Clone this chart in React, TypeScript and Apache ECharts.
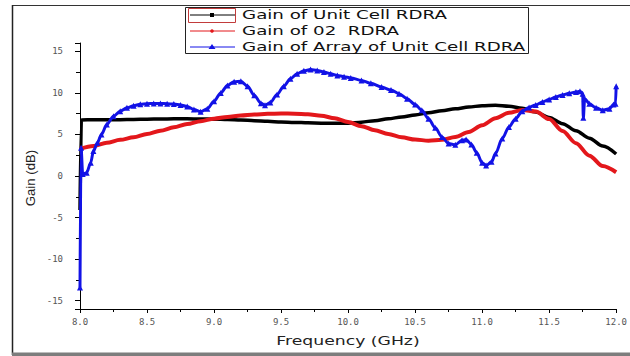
import React, { useEffect, useRef } from "react";
import * as echarts from "echarts";

// ---- data ----
const unitCellFreq = [8.0, 8.01, 8.1, 8.2, 8.3, 8.4, 8.5, 8.6, 8.7, 8.8, 8.9, 9.0, 9.1, 9.2, 9.3, 9.4, 9.5, 9.6, 9.7, 9.8, 9.9, 10.0, 10.1, 10.2, 10.3, 10.4, 10.5, 10.6, 10.7, 10.8, 10.9, 11.0, 11.1, 11.2, 11.3, 11.4, 11.5, 11.6, 11.7, 11.8, 11.9, 12.0];
const unitCellGain = [-4.1, 6.75, 6.76, 6.77, 6.78, 6.8, 6.83, 6.86, 6.88, 6.88, 6.86, 6.84, 6.8, 6.74, 6.66, 6.58, 6.5, 6.45, 6.4, 6.36, 6.34, 6.36, 6.48, 6.66, 6.88, 7.1, 7.35, 7.6, 7.85, 8.08, 8.3, 8.45, 8.52, 8.4, 8.15, 7.7, 7.05, 6.3, 5.45, 4.55, 3.6, 2.65];

const rdra02Freq = [8.0, 8.1, 8.2, 8.3, 8.4, 8.5, 8.6, 8.7, 8.8, 8.9, 9.0, 9.1, 9.2, 9.3, 9.4, 9.5, 9.6, 9.7, 9.8, 9.9, 10.0, 10.1, 10.2, 10.3, 10.4, 10.5, 10.6, 10.7, 10.8, 10.9, 11.0, 11.1, 11.2, 11.3, 11.4, 11.5, 11.6, 11.7, 11.8, 11.9, 12.0];
const rdra02Gain = [3.25, 3.6, 4.0, 4.35, 4.65, 5.05, 5.45, 5.85, 6.25, 6.6, 6.9, 7.1, 7.28, 7.4, 7.48, 7.52, 7.5, 7.42, 7.25, 6.95, 6.5, 6.0, 5.5, 5.05, 4.65, 4.38, 4.25, 4.35, 4.7, 5.3, 6.1, 6.95, 7.6, 7.95, 7.75, 6.85, 5.4, 3.95, 2.45, 1.2, 0.45];

const arrayFreq = [8.0, 8.008, 8.02, 8.05, 8.08, 8.1, 8.13, 8.16, 8.2, 8.25, 8.3, 8.35, 8.4, 8.45, 8.5, 8.55, 8.6, 8.65, 8.7, 8.75, 8.8, 8.85, 8.9, 8.95, 9.0, 9.05, 9.1, 9.15, 9.2, 9.25, 9.3, 9.35, 9.38, 9.42, 9.47, 9.52, 9.57, 9.62, 9.67, 9.72, 9.77, 9.82, 9.87, 9.92, 9.97, 10.02, 10.1, 10.17, 10.25, 10.32, 10.38, 10.44, 10.5, 10.55, 10.6, 10.65, 10.7, 10.75, 10.8, 10.85, 10.88, 10.92, 10.96, 11.0, 11.03, 11.07, 11.1, 11.15, 11.2, 11.25, 11.3, 11.35, 11.4, 11.45, 11.5, 11.55, 11.6, 11.65, 11.7, 11.73, 11.75, 11.755, 11.765, 11.8, 11.85, 11.9, 11.95, 11.98, 11.995, 12.0];
const arrayGain = [-13.4, 3.4, 0.25, 0.4, 1.6, 3.0, 4.0, 5.0, 6.2, 7.2, 7.8, 8.2, 8.45, 8.62, 8.7, 8.72, 8.72, 8.7, 8.65, 8.55, 8.35, 8.0, 7.72, 8.1, 9.0, 10.0, 10.9, 11.35, 11.4, 10.8, 9.7, 8.75, 8.5, 8.85, 9.8, 10.8, 11.7, 12.3, 12.65, 12.8, 12.7, 12.5, 12.3, 12.1, 11.95, 11.8, 11.5, 11.15, 10.7, 10.35, 9.9, 9.3, 8.6, 7.9, 6.9, 5.8, 4.7, 3.9, 3.75, 4.3, 4.4, 3.8, 2.8, 1.6, 1.25, 1.7, 2.7, 4.5, 5.9, 6.9, 7.8, 8.25, 8.55, 8.9, 9.2, 9.5, 9.75, 9.95, 10.1, 10.2, 9.9, 7.0, 9.3, 8.7, 8.2, 7.9, 8.1, 8.6, 8.7, 10.8];

const seriesNames = ["Gain of Unit Cell RDRA", "Gain of 02  RDRA", "Gain of Array of Unit Cell RDRA"];
const xAxisTitle = "Frequency (GHz)";
const yAxisTitle = "Gain (dB)";
const xRange = [8, 12];
const yRange = [-16, 16];

const BLACK = "#000000";
const RED = "#e3171b";
const BLUE = "#1212e6";

function pairs(f: number[], g: number[]) {
  return f.map((v, i) => [v, g[i]]);
}

export default function App() {
  const ref = useRef<HTMLDivElement>(null);
  useEffect(() => {
    if (!ref.current) return;
    const chart = echarts.init(ref.current, undefined, { renderer: "svg" });
    const tickFont = { fontSize: 9, fontFamily: "DejaVu Sans Mono", color: "#555" };
    const legendRows = [15, 31, 47];
    const legendColors = [BLACK, RED, BLUE];
    const legendGraphics: any[] = [
      {
        type: "rect",
        shape: { x: 185.5, y: 7.5, width: 343, height: 46 },
        style: { fill: "#fff", stroke: "#222", lineWidth: 1 },
        z: 100,
      },
      {
        type: "rect",
        shape: { x: 188.5, y: 8.5, width: 47, height: 14 },
        style: { fill: "none", stroke: "#c23b3b", lineWidth: 1 },
        z: 101,
      },
    ];
    legendRows.forEach((yy, i) => {
      legendGraphics.push({
        type: "line",
        shape: { x1: 190, y1: yy, x2: 235, y2: yy },
        style: { stroke: legendColors[i], lineWidth: 1 },
        z: 101,
      });
      legendGraphics.push({
        type: "text",
        x: 242,
        y: yy,
        scaleX: 1.46,
        style: {
          text: seriesNames[i],
          fontSize: 12.5,
          fontFamily: "DejaVu Sans",
          fill: "#111",
          align: "left",
          verticalAlign: "middle",
        },
        z: 101,
      });
    });
    legendGraphics.push({
      type: "rect",
      shape: { x: 210, y: legendRows[0] - 2, width: 4, height: 4 },
      style: { fill: BLACK },
      z: 102,
    });
    legendGraphics.push({
      type: "circle",
      shape: { cx: 212, cy: legendRows[1], r: 1.8 },
      style: { fill: RED },
      z: 102,
    });
    legendGraphics.push({
      type: "polygon",
      shape: { points: [[212, legendRows[2] - 3], [215.5, legendRows[2] + 2], [208.5, legendRows[2] + 2]] },
      style: { fill: BLUE },
      z: 102,
    });

    chart.setOption({
      animation: false,
      backgroundColor: "#ffffff",
      grid: { left: 80, right: 11, top: 43, bottom: 47, containLabel: false },
      xAxis: {
        type: "value",
        min: xRange[0],
        max: xRange[1],
        interval: 0.5,
        axisLine: { show: true, onZero: false, lineStyle: { color: "#000", width: 1 } },
        axisTick: { show: true, length: 4, lineStyle: { color: "#000" } },
        minorTick: { show: true, splitNumber: 2, length: 3, lineStyle: { color: "#000" } },
        splitLine: { show: false },
        axisLabel: { ...tickFont, margin: 8, formatter: (v: number) => v.toFixed(1) },
      },
      yAxis: {
        type: "value",
        min: yRange[0],
        max: yRange[1],
        minInterval: 5,
        maxInterval: 5,
        splitNumber: 7,
        axisLine: { show: true, onZero: false, lineStyle: { color: "#000", width: 1 } },
        axisTick: { show: true, length: 5, lineStyle: { color: "#000" } },
        minorTick: { show: true, splitNumber: 2, length: 4, lineStyle: { color: "#000" } },
        splitLine: { show: false },
        axisLabel: {
          ...tickFont,
          margin: 17,
          formatter: (v: number) => (Math.abs(v % 5) < 1e-9 ? String(v) : ""),
        },
      },
      series: [
        {
          name: seriesNames[0],
          type: "line",
          data: pairs(unitCellFreq, unitCellGain),
          smooth: 0.3,
          smoothMonotone: "x",
          showSymbol: false,
          lineStyle: { color: BLACK, width: 3.5 },
          itemStyle: { color: BLACK },
          z: 2,
        },
        {
          name: seriesNames[1],
          type: "line",
          data: pairs(rdra02Freq, rdra02Gain),
          smooth: 0.3,
          smoothMonotone: "x",
          showSymbol: false,
          lineStyle: { color: RED, width: 4 },
          itemStyle: { color: RED },
          z: 3,
        },
        {
          name: seriesNames[2],
          type: "line",
          data: pairs(arrayFreq, arrayGain),
          smooth: 0.3,
          smoothMonotone: "x",
          showSymbol: true,
          symbol: "triangle",
          symbolSize: 6,
          lineStyle: { color: BLUE, width: 3 },
          itemStyle: { color: BLUE },
          z: 4,
        },
      ],
      graphic: [
        {
          type: "line",
          shape: { x1: 12, y1: 5.5, x2: 630, y2: 5.5 },
          style: { stroke: "#333", lineWidth: 1 },
        },
        {
          type: "line",
          shape: { x1: 12.5, y1: 5, x2: 12.5, y2: 355 },
          style: { stroke: "#222", lineWidth: 1.5 },
        },
        {
          type: "rect",
          shape: { x: 12, y: 352.5, width: 618, height: 3.5 },
          style: { fill: "#7d7d7d" },
        },
        {
          type: "text",
          x: 348,
          y: 341,
          scaleX: 1.5,
          style: {
            text: xAxisTitle,
            fontSize: 11.5,
            fontFamily: "DejaVu Sans",
            fill: "#222",
            align: "center",
            verticalAlign: "middle",
          },
        },
        {
          type: "text",
          x: 31,
          y: 178,
          rotation: Math.PI / 2,
          scaleX: 1.1,
          style: {
            text: yAxisTitle,
            fontSize: 12,
            fontFamily: "Liberation Sans",
            fill: "#222",
            align: "center",
            verticalAlign: "middle",
          },
        },
        ...legendGraphics,
      ],
    });
    return () => chart.dispose();
  }, []);
  return (
    <div
      ref={ref}
      style={{ position: "fixed", left: 0, top: 0, width: 630, height: 356, background: "#fff" }}
    />
  );
}
